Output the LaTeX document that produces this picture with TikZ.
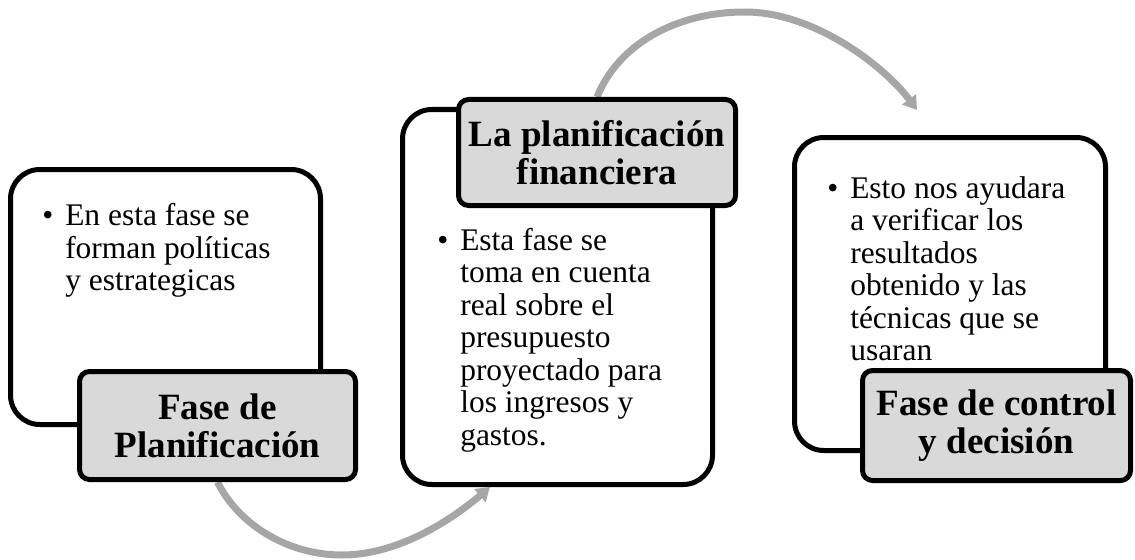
\documentclass[tikz,border=0pt]{standalone}
\usepackage{fontspec}
\setmainfont{Liberation Serif}
\usetikzlibrary{arrows.meta}
\definecolor{arcgray}{RGB}{166,166,166}
\definecolor{labgray}{RGB}{217,217,217}
\pgfdeclarelayer{bg}
\pgfsetlayers{bg,main}
\tikzset{
  whitebox/.style={draw=black, line width=3.75pt, fill=white, rounded corners=22pt, inner sep=0pt},
  labbox/.style={draw=black, line width=3.75pt, fill=labgray, rounded corners=7.5pt, inner sep=0pt,
    align=center, font=\bfseries\fontsize{27.8}{28.5}\selectfont},
  bodytext/.style={anchor=base west, inner sep=0pt, font=\fontsize{23.6}{24.4}\selectfont},
  flowarc/.style={draw=arcgray, line width=5.25pt, -{Triangle[width=12.5pt,length=10pt]}}
}
\newcommand{\bul}{\leavevmode\llap{\textbullet\hspace{9pt}}}
\begin{document}
\begin{tikzpicture}[x=0.75pt,y=-0.75pt]
\useasboundingbox (0,0) rectangle (1135,560);
% white content boxes
\node[whitebox, minimum width=232.5pt, minimum height=191.25pt] (box1) at (165.5,297) {};
\node[whitebox, minimum width=232.5pt, minimum height=281.25pt] (box2) at (557.5,297) {};
\node[whitebox, minimum width=233.25pt, minimum height=234.75pt] (box3) at (950,294) {};
% body texts
\node[bodytext] (t1) at (65,225.5) {\parbox[t]{200pt}{\raggedright\bul En esta fase se\\forman políticas\\y estrategicas}};
\node[bodytext] (t2) at (460,250) {\parbox[t]{200pt}{\raggedright\bul Esta fase se\\toma en cuenta\\real sobre el\\presupuesto\\proyectado para\\los ingresos y\\gastos.}};
\node[bodytext] (t3) at (850,198) {\parbox[t]{200pt}{\raggedright\bul Esto nos ayudara\\a verificar los\\resultados\\obtenido y las\\técnicas que se\\usaran}};
% grey title boxes
\node[labbox, minimum width=207pt, minimum height=81pt] (lab1) at (217.5,425.5) {Fase de\\Planificación};
\node[labbox, minimum width=207.75pt, minimum height=79.5pt] (lab2) at (597,152.5) {La planificación\\financiera};
\node[labbox, minimum width=201pt, minimum height=82.5pt] (lab3) at (996.5,425.5) {Fase de control\\y decisión};
% arrow ends
\coordinate (e1) at (490,487);
\coordinate (e2) at (917,110);
% connectors behind the boxes
\begin{pgfonlayer}{bg}
\draw[flowarc] (lab1.south) .. controls (237,522) and (285,555) .. (342,555)
  .. controls (405,555) and (462,511) .. (e1);
\draw[flowarc] (lab2.north) .. controls (618,45) and (675,12) .. (745,12)
  .. controls (815,12) and (885,67) .. (e2);
\end{pgfonlayer}
\end{tikzpicture}
\end{document}
